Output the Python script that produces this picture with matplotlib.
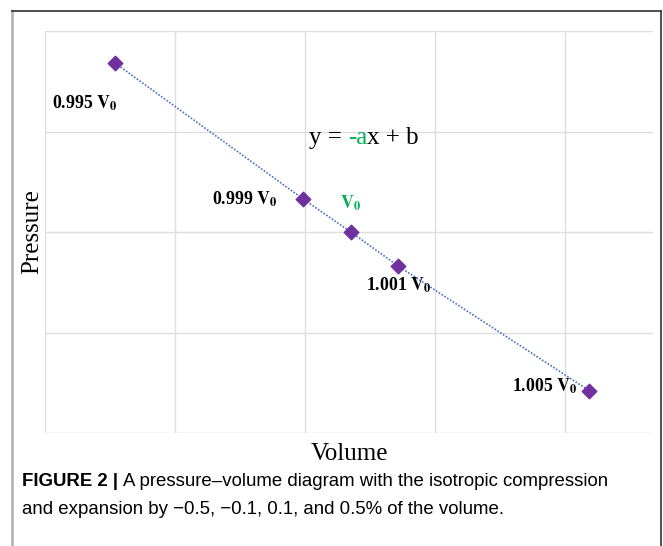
import matplotlib.pyplot as plt
from matplotlib.lines import Line2D

plt.rcParams['font.family'] = ['Liberation Serif', 'DejaVu Serif']
plt.rcParams['mathtext.fontset'] = 'stix'

# point positions (grid units)
volume = [0.54, 1.985, 2.354, 2.72, 4.19]
pressure = [3.68, 2.33, 2.0, 1.66, 0.42]
labels = [r'0.995 $\mathbf{V_0}$', r'0.999 $\mathbf{V_0}$', r'$\mathbf{V_0}$',
          r'1.001 $\mathbf{V_0}$', r'1.005 $\mathbf{V_0}$']
label_colors = ['black', 'black', '#00B050', 'black', 'black']
label_offsets = [(-22, -29), (-42, 0), (0, 21), (0, -14), (-32, 3)]

fig = plt.figure(figsize=(6.63, 5.46), dpi=100)
ax = fig.add_axes([45/663, 113/546, 608/663, 402/546])

ax.plot(volume, pressure, linestyle=(0, (1, 1)), color='#4472C4', linewidth=1.2, zorder=2)
ax.scatter(volume, pressure, marker='D', s=55, color='#7030A0', zorder=3)

for x, y, lab, c, off in zip(volume, pressure, labels, label_colors, label_offsets):
    ax.annotate(lab, (x, y), xytext=off, textcoords='offset points',
                ha='center', va='center', fontsize=12.8, fontweight='bold', color=c)

# equation, "-a" in green
t1 = ax.text(2.03, 2.88, 'y = ', fontsize=18, va='baseline')
t2 = ax.annotate('-a', xy=(1, 0), xycoords=t1, va='bottom', fontsize=18, color='#00B050')
ax.annotate('x + b', xy=(1, 0), xycoords=t2, va='bottom', fontsize=18)

ax.set_xlim(0, 4.68)
ax.set_ylim(0, 4)
ax.set_xticks([0, 1, 2, 3, 4])
ax.set_yticks([0, 1, 2, 3, 4])
ax.tick_params(length=0, labelbottom=False, labelleft=False)
ax.grid(True, color='#dedede', linewidth=1.0)
ax.set_axisbelow(True)
for s in ax.spines.values():
    s.set_visible(False)

ax.set_xlabel('Volume', fontsize=18, labelpad=7)
ax.set_ylabel('Pressure', fontsize=18, labelpad=1)

# frame lines of the figure box
fig.add_artist(Line2D([12/663, 12/663], [0, 535/546], color='#b5b5b5', linewidth=2))
fig.add_artist(Line2D([12/663, 661/663], [535/546, 535/546], color='#404040', linewidth=1.3))
fig.add_artist(Line2D([661/663, 661/663], [0, 535/546], color='#404040', linewidth=1.3))

# caption
c1 = fig.text(22/663, 1 - 482/546, 'FIGURE 2 | ', fontsize=13.4, fontweight='bold',
              family='Liberation Sans', va='center')
ax.annotate('A pressure\u2013volume diagram with the isotropic compression',
            xy=(1, 0.5), xycoords=c1, va='center', fontsize=13.4,
            family='Liberation Sans', annotation_clip=False)
fig.text(22/663, 1 - 509/546, 'and expansion by \u22120.5, \u22120.1, 0.1, and 0.5% of the volume.',
         fontsize=13.4, family='Liberation Sans', va='center')

plt.savefig('out.png', dpi=100)
